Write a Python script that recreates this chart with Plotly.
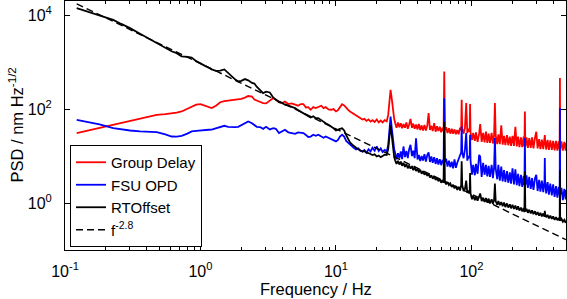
import plotly.graph_objects as go

# ---------------- data ----------------
# frequency bins, Hz (four consecutive bands)
freq_a = [0.122, 0.15, 0.18, 0.227, 0.26, 0.302, 0.358, 0.42, 0.475, 0.55, 0.612, 0.667,
          0.726, 0.8, 0.861, 0.93, 1.0, 1.08, 1.15, 1.21, 1.3, 1.4, 1.5, 1.6, 1.7, 1.8,
          1.9, 2.0, 2.13, 2.25, 2.4, 2.5, 2.6, 2.75, 2.9, 3.05, 3.25, 3.45, 3.6, 3.8,
          4.0, 4.2, 4.45, 4.7, 5.0, 5.25, 5.5, 5.75, 6.0, 6.25, 6.5, 6.8, 7.1, 7.4,
          7.8, 8.1, 8.4, 8.8, 9.2, 9.6, 10.0]
freq_b = [10.35, 10.7, 11.1, 11.5, 11.9, 12.3, 12.7, 13.2, 13.6, 14.1, 14.6, 15.1, 15.7,
          16.2, 16.8, 17.4, 18.0, 18.6, 19.3, 20.0, 20.7, 21.4, 22.1, 22.9, 23.7, 24.3,
          24.8, 25.3, 25.8, 26.3, 26.9, 27.4]
freq_c = [28.0, 28.7, 29.4, 30.1, 30.8, 31.5, 32.3, 33.1, 33.9, 34.7, 35.5, 36.4, 37.2,
          38.1, 39.0, 40.0, 40.9, 41.9, 42.9, 43.9, 45.0, 46.1, 47.2, 48.3, 49.4, 50.6,
          51.8, 53.1, 54.4, 55.7, 57.0, 58.4, 59.8, 61.2, 62.3, 63.0, 63.7, 65.0, 66.6,
          68.2, 69.8, 71.5, 73.2, 75.0, 76.8, 78.6, 80.5, 82.4, 84.0, 84.7, 85.5, 87.5,
          89.6, 91.5, 93.2, 95.4, 97.0, 97.7, 98.5]
freq_d = [101, 103, 106, 108, 111, 114, 116, 119, 122, 125, 128, 131, 134, 137, 141, 144,
          147, 149, 151, 155, 158, 162, 166, 170, 174, 178, 183, 187, 192, 196, 201, 206,
          211, 216, 221, 226, 232, 237, 243, 246, 248, 250, 255, 261, 267, 274, 280, 287,
          294, 301, 308, 316, 323, 331, 339, 346, 348, 350, 356, 365, 373, 382, 392, 401,
          411, 421, 431, 441, 448, 450, 452, 462, 473, 485, 496, 500]

# Group Delay PSD, nm Hz^-1/2
gd_a = [30.9, 35.3, 39.9, 46.5, 50.8, 56, 63, 70, 75.6, 78, 80, 84,
        89, 102, 114, 124, 128, 118, 110, 105, 118, 140, 147, 150, 152, 155,
        158, 165, 175, 190, 185, 160, 152, 140, 134, 132, 150, 171, 160, 140,
        134, 145, 128, 132, 124, 118, 128, 128, 108, 110, 96.7, 110, 105, 112,
        118, 105, 110, 98, 96.7, 100, 89]
gd_b = [95, 108, 127, 120, 104, 96, 89, 83, 78, 72, 68, 64, 60, 62, 56, 60, 54, 58, 53, 60,
        52, 57, 52, 58, 55, 75, 140, 257, 170, 95, 62, 50]
gd_c = [40, 52, 41, 50, 39, 48, 40, 52, 38, 47, 62, 40, 49, 38, 47, 37, 48, 36, 45, 35,
        46, 35, 44, 82, 36, 44, 34, 50, 33, 43, 34, 42, 32, 40, 34, 631, 36, 41, 31, 39,
        30, 38, 30, 37, 29, 36, 29, 40, 35, 158, 38, 30, 40, 134, 31, 38, 33, 129, 31]
gd_d = [22, 31, 21, 32, 20, 30, 48, 20, 31, 19.5, 33, 19, 30, 19, 31, 18.5, 28, 134, 28, 18,
        29, 18, 45, 17.5, 27, 17, 28, 17, 26, 16.5, 27, 16.5, 42, 16, 26, 15.5, 25, 15.5,
        26, 16, 89, 16, 25, 15, 24, 15, 25, 14.5, 24, 33, 14.5, 23, 14, 22.5, 14, 22, 28,
        22, 13.8, 22, 13.5, 21.5, 13.5, 21, 13.2, 21, 13, 20.5, 14, 457, 14, 20.5, 13, 20,
        13, 19]

# FSU OPD PSD, nm Hz^-1/2
fsu_a = [59.2, 53, 47, 39.5, 37, 35, 33.4, 32.8, 32.4, 29, 26.1, 26,
         27.0, 30, 33.4, 34.5, 35.5, 36.3, 36.3, 36.5, 39, 43, 44.1, 42, 41.4, 41.4,
         42, 45, 50, 54.5, 50, 45, 42, 41.4, 38, 42, 37, 39.4, 38, 30.9,
         33, 36.3, 32, 31, 29.8, 32, 31.5, 30.9, 28, 25.4, 26, 28.4, 27, 28.4,
         26, 24.5, 26, 24.2, 23.5, 22, 20.5]
fsu_b = [22, 26, 28.4, 26, 21, 19, 17.4, 16, 14.8, 13.8, 14.5, 13, 12.5, 13.5, 11.8, 14,
         12.5, 15, 13, 16, 12.8, 14.5, 12.2, 13.5, 12.5, 17, 35, 69.6, 40, 22, 14, 11.5]
fsu_c = [8.5, 11.5, 9, 12.5, 8.6, 16, 9.5, 12.8, 9, 14, 17.4, 10, 13, 9, 24, 8.5, 10.5,
         7.8, 10, 8, 11, 7.6, 10.5, 12, 7.5, 9.8, 7.2, 9.5, 6.8, 9, 6.6, 8.6, 6.4, 8.2, 7,
         171, 7.5, 8.8, 6, 8, 5.8, 7.6, 5.5, 8.5, 5.6, 7.2, 9, 11, 12, 42.6, 12, 9, 14,
         30.9, 8, 10, 9, 28.4, 8]
fsu_d = [4.0, 6.5, 3.9, 6.8, 4.2, 10.6, 9.8, 3.6, 7.2, 4.0, 6.5, 3.7, 6.2, 3.6, 6.5, 3.4,
         5.8, 24.2, 5.5, 3.2, 6.5, 3.0, 6, 2.9, 5, 2.8, 4.8, 2.7, 4.5, 2.6, 5.5, 2.5, 5.2,
         2.4, 4.2, 2.3, 4.0, 2.2, 3.8, 2.4, 24.2, 2.4, 3.9, 2.1, 3.6, 2.0, 3.4, 1.9, 3.3,
         4.0, 1.8, 3.1, 1.75, 3.0, 1.7, 2.9, 9.07, 2.9, 1.6, 2.8, 1.5, 2.6, 1.45, 2.5,
         1.35, 2.3, 1.3, 2.2, 1.5, 105, 1.5, 2.1, 1.15, 2.0, 1.2, 1.9]

# RTOffset PSD, nm Hz^-1/2
rt_a = [14100, 11700, 9700, 7940, 6500, 5290, 4000, 3100, 2540, 1950, 1700, 1550,
        1330, 1290, 1250, 1050, 920, 833, 760, 700, 650, 660, 700, 583, 500, 430,
        387, 400, 435, 410, 360, 350, 300, 260, 219, 235, 226, 175, 158, 140,
        135, 124, 118, 112, 105, 95, 88, 80, 74, 69.6, 66, 70, 64, 64.4,
        58, 52, 50, 46.3, 43, 39, 35]
rt_b = [37, 38, 39, 35, 28, 23, 19.5, 17.5, 16, 15, 14, 13.2, 12.5, 12.8, 11.8, 11.6, 11,
        10.5, 10.9, 9.8, 10.3, 9.5, 10, 10.7, 10.5, 14, 26, 45, 28, 15, 9.5, 8]
rt_c = [6.8, 7.9, 6.6, 7.6, 6.2, 7.2, 5.9, 6.8, 5.5, 6.3, 5.4, 6.1, 5.0, 5.8, 4.8, 5.4,
        4.5, 5.1, 4.2, 4.8, 4.0, 4.5, 3.8, 4.2, 3.5, 3.9, 3.3, 3.7, 3.1, 3.5, 2.9, 3.3,
        2.7, 3.1, 2.7, 54, 2.8, 2.5, 2.8, 2.4, 2.6, 2.2, 2.45, 2.05, 2.3, 1.9, 2.2, 1.85,
        2.4, 7.7, 2.4, 1.8, 2.0, 3.0, 1.65, 1.85, 1.6, 4.35, 1.6]
rt_d = [1.2, 1.45, 1.15, 1.38, 1.12, 1.35, 1.6, 1.1, 1.3, 1.05, 1.28, 1.02, 1.24, 0.98,
        1.2, 0.97, 1.15, 2.6, 1.1, 0.92, 1.1, 0.9, 1.05, 0.86, 1.02, 0.82, 0.98, 0.8,
        0.94, 0.77, 0.92, 0.75, 0.88, 0.72, 0.85, 0.69, 0.8, 0.66, 0.78, 0.64, 4.7, 0.66,
        0.75, 0.62, 0.72, 0.6, 0.7, 0.58, 0.67, 0.56, 0.64, 0.54, 0.62, 0.52, 0.6, 0.51,
        0.68, 0.58, 0.5, 0.56, 0.47, 0.54, 0.46, 0.52, 0.44, 0.5, 0.43, 0.48, 0.42, 5.0,
        0.42, 0.46, 0.4, 0.44, 0.38, 0.42]

# f^-2.8 power-law guide (end points)
fit_freq = [0.122, 498]
fit_psd = [17400, 0.166]

freq = freq_a + freq_b + freq_c + freq_d
group_delay = gd_a + gd_b + gd_c + gd_d
fsu_opd = fsu_a + fsu_b + fsu_c + fsu_d
rt_offset = rt_a + rt_b + rt_c + rt_d

x_tick_vals = [0.1, 1, 10, 100]
x_tick_text = ["10<sup>-1</sup>", "10<sup>0</sup>", "10<sup>1</sup>", "10<sup>2</sup>"]
x_minor_vals = [0.2, 0.3, 0.4, 0.5, 0.6, 0.7, 0.8, 0.9,
                2, 3, 4, 5, 6, 7, 8, 9,
                20, 30, 40, 50, 60, 70, 80, 90,
                200, 300, 400, 500]
y_tick_vals = [1, 100, 10000]
y_tick_text = ["10<sup>0</sup>", "10<sup>2</sup>", "10<sup>4</sup>"]

# ---------------- figure ----------------
FONT = "Liberation Sans, Arial, Helvetica, sans-serif"

fig = go.Figure()
fig.add_trace(go.Scatter(x=freq, y=group_delay, mode="lines", name="Group Delay",
                         line=dict(color="#ff0000", width=1.8)))
fig.add_trace(go.Scatter(x=freq, y=fsu_opd, mode="lines", name="FSU OPD",
                         line=dict(color="#0000ff", width=1.8)))
fig.add_trace(go.Scatter(x=freq, y=rt_offset, mode="lines", name="RTOffset",
                         line=dict(color="#000000", width=1.8)))
fig.add_trace(go.Scatter(x=fit_freq, y=fit_psd, mode="lines", name="f<sup>-2.8</sup>",
                         line=dict(color="#000000", width=1.4, dash="7px,4px")))

axis_common = dict(showline=True, linecolor="black", linewidth=1, mirror="allticks",
                   ticks="inside", ticklen=5, tickcolor="black", showgrid=False,
                   zeroline=False, tickfont=dict(family=FONT, size=16, color="black"))

fig.update_xaxes(type="log", range=[-1, 2.698], tickmode="array",
                 tickvals=x_tick_vals, ticktext=x_tick_text, ticklabelstandoff=7,
                 minor=dict(tickmode="array", tickvals=x_minor_vals, ticks="inside",
                            ticklen=3, tickcolor="black", showgrid=False),
                 **axis_common)
fig.update_yaxes(type="log", range=[-1, 4.301], tickmode="array",
                 tickvals=y_tick_vals, ticktext=y_tick_text, ticklabelstandoff=9,
                 **axis_common)

fig.add_annotation(text="Frequency / Hz", xref="paper", yref="paper",
                   x=(316 - 65) / 501, y=(250 - 289) / 249, xanchor="center", yanchor="middle",
                   showarrow=False, font=dict(family=FONT, size=16.5, color="black"))
fig.add_annotation(text="PSD / nm Hz<sup>-1/2</sup>", xref="paper", yref="paper",
                   x=(16.5 - 65) / 501, y=(250 - 125) / 249, xanchor="center", yanchor="middle",
                   textangle=-90, showarrow=False,
                   font=dict(family=FONT, size=16.5, color="black"))

fig.update_layout(
    width=567, height=299,
    margin=dict(l=65, r=1, t=1, b=49, autoexpand=False),
    paper_bgcolor="white", plot_bgcolor="white",
    font=dict(family=FONT, size=16, color="black"),
    showlegend=True,
    legend=dict(x=0.01, y=(250 - 145) / 249, xanchor="left", yanchor="top",
                bgcolor="white", bordercolor="black", borderwidth=1,
                font=dict(family=FONT, size=15, color="black"), itemwidth=30),
)

fig.write_html("out.html", config={"displayModeBar": False},
               post_script="document.body.style.margin='0px';")
